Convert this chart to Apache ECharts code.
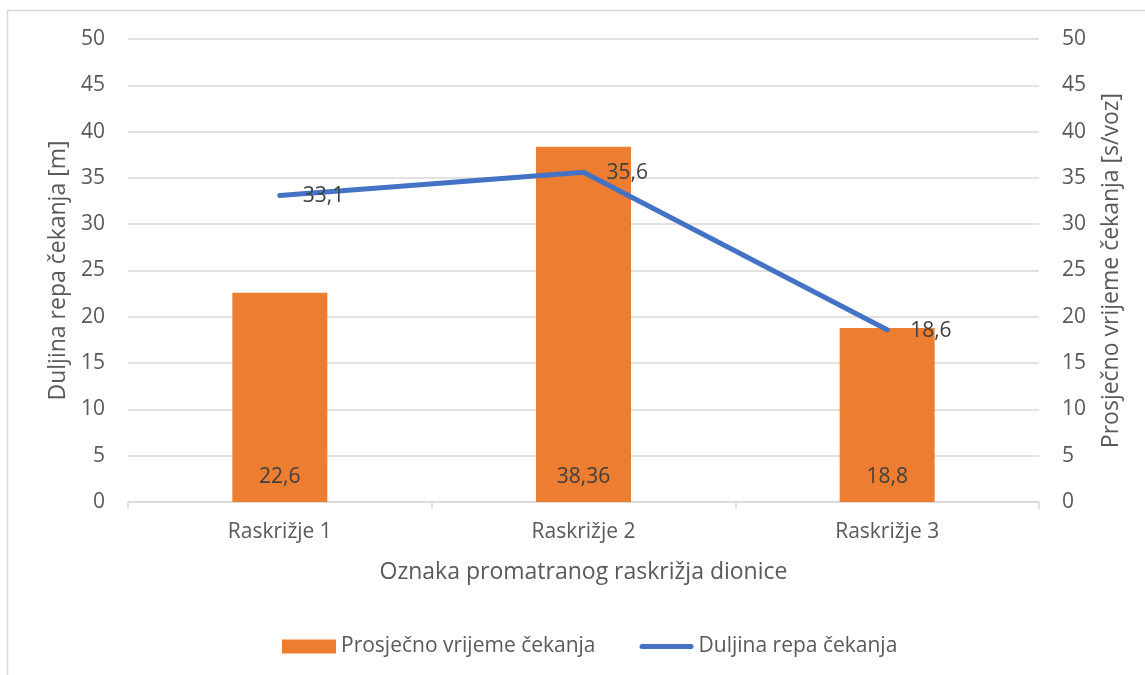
<!DOCTYPE html>
<html>
<head>
<meta charset="utf-8">
<script src="https://cdn.jsdelivr.net/npm/echarts@6/dist/echarts.min.js"></script>
<style>
  html, body { margin: 0; padding: 0; background: #fff; }
  #chart { width: 1145px; height: 675px; }
</style>
</head>
<body>
<div id="chart"></div>
<script>
// Intersections along the road section
const categories = ['Raskrižje 1', 'Raskrižje 2', 'Raskrižje 3'];
// Average waiting time [s/voz] (bars)
const waitTime = [22.6, 38.36, 18.8];
// Queue length [m] (line)
const queueLength = [33.1, 35.6, 18.6];

const TEXT = '#595959';
const LABEL = '#404040';
const GRID = '#D9D9D9';
const ORANGE = '#ED7D31';
const BLUE = '#4472C4';
const FONT = '"Open Sans", "Noto Sans", sans-serif';

// decimal comma
const fmt = v => String(v).replace('.', ',');

const chart = echarts.init(document.getElementById('chart'), null, { renderer: 'canvas' });

const valueAxis = (name, position, nameGap) => ({
  type: 'value',
  position: position,
  min: 0,
  max: 50,
  interval: 5,
  name: name,
  nameLocation: 'middle',
  nameGap: nameGap,
  nameTextStyle: { color: TEXT, fontSize: 23, fontFamily: FONT },
  axisLine: { show: false },
  axisTick: { show: false },
  axisLabel: { color: TEXT, fontSize: 21, fontFamily: FONT, margin: 23 },
  splitLine: { show: position === 'left', lineStyle: { color: GRID, width: 1.5 } }
});

chart.setOption({
  animation: false,
  textStyle: { fontFamily: FONT },
  graphic: [{
    type: 'rect',
    shape: { x: 7.5, y: 10.5, width: 1160, height: 700 },
    style: { fill: 'none', stroke: GRID, lineWidth: 1.5 },
    silent: true,
    z: -1
  }],
  grid: { left: 128, right: 106, top: 39, bottom: 173 },
  legend: {
    top: 631,
    left: 277,
    itemWidth: 54,
    itemHeight: 14,
    itemGap: 44,
    textStyle: { color: TEXT, fontSize: 21, fontFamily: FONT },
    data: [
      { name: 'Prosječno vrijeme čekanja', icon: 'rect' },
      {
        name: 'Duljina repa čekanja',
        icon: 'path://M2.5,0 H51.5 A2.5,2.5 0 0 1 51.5,5 H2.5 A2.5,2.5 0 0 1 2.5,0 Z'
      }
    ]
  },
  xAxis: {
    type: 'category',
    data: categories,
    name: 'Oznaka promatranog raskrižja dionice',
    nameLocation: 'middle',
    nameGap: 59,
    nameTextStyle: { color: TEXT, fontSize: 23, fontFamily: FONT },
    axisLine: { lineStyle: { color: GRID, width: 1.5 } },
    axisTick: { show: true, length: 7, lineStyle: { color: GRID, width: 1.5 } },
    axisLabel: { color: TEXT, fontSize: 21, fontFamily: FONT, margin: 20 }
  },
  yAxis: [
    valueAxis('Duljina repa čekanja [m]', 'left', 58),
    valueAxis('Prosječno vrijeme čekanja [s/voz]', 'right', 61)
  ],
  series: [
    {
      name: 'Prosječno vrijeme čekanja',
      type: 'bar',
      yAxisIndex: 1,
      data: waitTime,
      barWidth: 95,
      itemStyle: { color: ORANGE },
      label: {
        show: true,
        position: 'insideBottom',
        distance: 14,
        color: LABEL,
        fontSize: 21,
        fontFamily: FONT,
        formatter: p => fmt(p.value)
      },
      z: 2
    },
    {
      name: 'Duljina repa čekanja',
      type: 'line',
      yAxisIndex: 0,
      data: queueLength,
      symbol: 'circle',
      symbolSize: 2,
      showSymbol: true,
      lineStyle: { color: BLUE, width: 5, cap: 'round', join: 'round' },
      itemStyle: { color: BLUE },
      label: {
        show: true,
        position: 'right',
        distance: 22,
        offset: [0, 1],
        color: LABEL,
        fontSize: 21,
        fontFamily: FONT,
        formatter: p => fmt(p.value)
      },
      z: 3
    }
  ]
});
</script>
</body>
</html>
